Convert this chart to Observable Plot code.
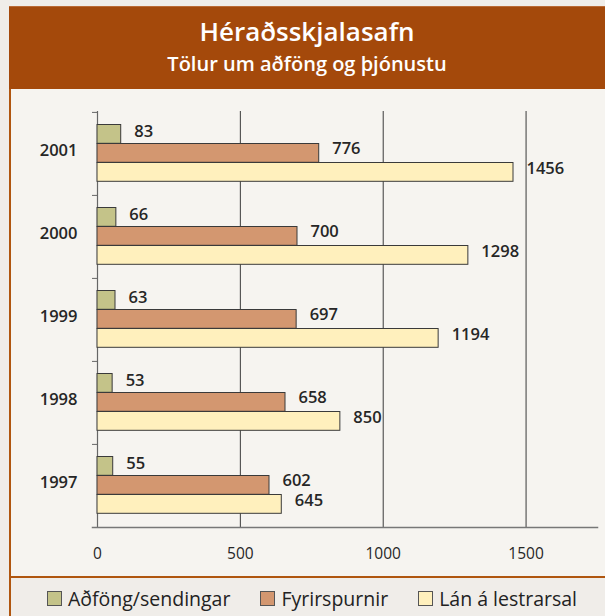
<!DOCTYPE html>
<html><head><meta charset="utf-8">
<script src="https://cdn.jsdelivr.net/npm/d3@7"></script>
<script src="https://cdn.jsdelivr.net/npm/@observablehq/plot@0.6"></script>
<style>
html,body{margin:0;padding:0;}
body{width:605px;height:616px;background:#F0EDE9;position:relative;overflow:hidden;font-family:"Open Sans",sans-serif;}
#header{position:absolute;left:9px;top:6px;width:596px;height:83px;background:#A4490B;border-top:1px solid #BA6A35;box-sizing:border-box;color:#fff;text-align:center;}
#title{font-size:26px;line-height:30px;margin-top:9px;font-weight:600;}
#subtitle{font-size:20px;line-height:24px;margin-top:6px;font-weight:600;}
#panel{position:absolute;left:11px;top:89px;width:594px;height:487px;background:#F6F4F0;}
#vline{position:absolute;left:9px;top:89px;width:2px;height:527px;background:#B0560F;}
#hline{position:absolute;left:9px;top:576px;width:596px;height:2px;background:#B0560F;}
#legend{position:absolute;left:47px;top:579px;height:38px;display:flex;align-items:center;gap:30px;font-size:19.5px;color:#222;}
.item{display:flex;align-items:center;gap:6px}
.sw{width:13px;height:13px;border:1px solid #555;}
#chart{position:absolute;left:11px;top:89px;}
</style>
</head><body>
<div id="header"><div id="title">Héraðsskjalasafn</div><div id="subtitle">Tölur um aðföng og þjónustu</div></div>
<div id="panel"></div>
<div id="vline"></div>
<div id="hline"></div>
<div id="chart"></div>
<div id="legend"></div>
<script>
const years = ["2001", "2000", "1999", "1998", "1997"];
const seriesNames = ["Aðföng/sendingar", "Fyrirspurnir", "Lán á lestrarsal"];
const adfong = [83, 66, 63, 53, 55];
const fyrirspurnir = [776, 700, 697, 658, 602];
const lan = [1456, 1298, 1194, 850, 645];
const xTicks = [0, 500, 1000, 1500];
const colors = ["#C4C389", "#D39770", "#FFF0BD"];

const seriesValues = [adfong, fyrirspurnir, lan];
const rows = [];
seriesNames.forEach((s, i) => years.forEach((y, j) => rows.push({year: y, series: s, value: seriesValues[i][j]})));

const W = 594, H = 487, mL = 86, mR = 8, mT = 22, mB = 49;
const band = (H - mT - mB) / years.length;
const barH = 19, top0 = 12.5;
const labelDy = [-22, -5, 15];
const ink = "#262626";

const marks = [
  Plot.ruleX(xTicks.filter(d => d > 0), {stroke: "#3a3a3a", strokeWidth: 1}),
  Plot.ruleX([0], {stroke: "#666", strokeWidth: 1.2}),
  Plot.axisY({tickSize: 5, tickFormat: () => "", dy: -band / 2, stroke: "#666"}),
  Plot.axisY({tickSize: 0, tickPadding: 20, fontSize: 16.5, fontWeight: 600, fill: ink, dy: -3}),
  Plot.frame({anchor: "bottom", stroke: "#777", strokeWidth: 1.5, insetLeft: -5}),
  Plot.axisX({ticks: xTicks, tickFormat: d => String(d), tickSize: 0, tickPadding: 20, fontSize: 15.5, fontWeight: 500, fill: ink})
];
seriesNames.forEach((s, i) => {
  const data = rows.filter(r => r.series === s);
  const it = top0 + i * barH;
  marks.push(Plot.barX(data, {x: "value", y: "year", fill: colors[i], stroke: "#3a3a3a", strokeWidth: 1,
    insetTop: it, insetBottom: band - it - barH}));
  marks.push(Plot.text(data, {x: "value", y: "year", text: d => String(d.value), textAnchor: "start",
    dx: 13, dy: labelDy[i], fontSize: 16.5, fontWeight: 600, fill: ink}));
});

const chart = Plot.plot({
  width: W, height: H,
  marginLeft: mL, marginRight: mR, marginTop: mT, marginBottom: mB,
  style: {background: "transparent", fontFamily: "'Open Sans', sans-serif", color: ink, overflow: "visible"},
  x: {domain: [0, 1750], label: null},
  y: {domain: years, label: null, padding: 0},
  marks
});
document.getElementById("chart").appendChild(chart);

const legend = document.getElementById("legend");
seriesNames.forEach((s, i) => {
  const item = document.createElement("div");
  item.className = "item";
  const sw = document.createElement("div");
  sw.className = "sw";
  sw.style.background = colors[i];
  const t = document.createElement("span");
  t.textContent = s;
  item.appendChild(sw); item.appendChild(t);
  legend.appendChild(item);
});
</script>
</body></html>
